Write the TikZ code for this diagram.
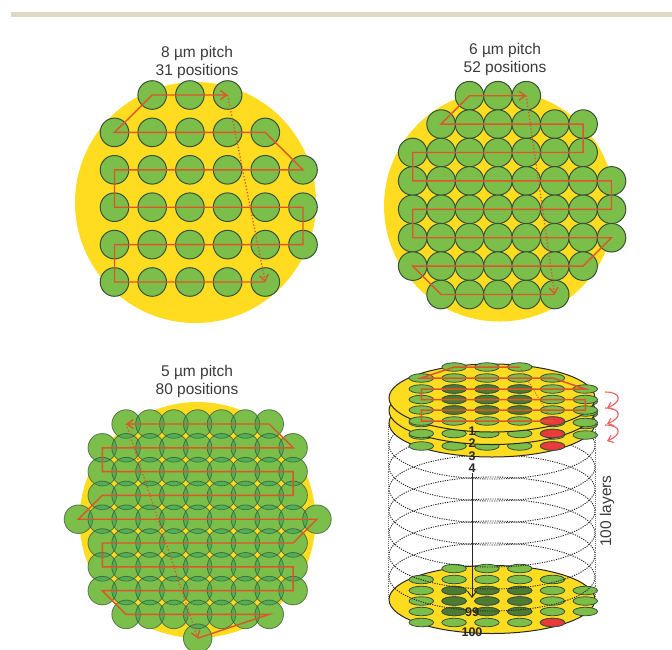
\documentclass[tikz,border=0pt]{standalone}
\usepackage{fontspec}
\usepackage{xcolor}
\usepackage{tikz}
\usetikzlibrary{arrows.meta,shapes.geometric}
\setmainfont{Liberation Sans}
\definecolor{bandcol}{HTML}{DFD8C6}
\definecolor{wafer}{HTML}{FFDC20}
\definecolor{greencol}{HTML}{7BBF4A}
\definecolor{greenunder}{RGB}{182,215,57}
\definecolor{greenover}{RGB}{14,146,105}
\definecolor{greendark}{HTML}{4F7A32}
\definecolor{rimcol}{HTML}{37503A}
\definecolor{routecol}{HTML}{DE5528}
\definecolor{spotred}{HTML}{EC3A3C}
\definecolor{wigglecol}{HTML}{EE5F62}
\definecolor{labelcol}{HTML}{3A3A3C}
\newcommand{\plate}[2]{
  \node[disc] (#1) at (492,#2) {};
  \foreach \r/\dy/\a/\b in {1/-31/2/4,2/-20/1/5,3/-9/1/6,4/1.5/1/6,5/12/1/6,6/23/1/5}
    \foreach \c in {\a,...,\b}
      \node[spot] (#1-\r-\c) at ({421.3+32.8*(\c-1)},{#2+\dy}) {};
  \foreach \r/\dy in {3/-9,4/1.5,5/12}
    \foreach \c in {2,3,4}
      \node[spot,fill=greendark] (#1-\r-\c) at ({421.3+32.8*(\c-1)},{#2+\dy}) {};
  \node[spot,fill=spotred] (#1-6-5) at ({421.3+32.8*4},{#2+23}) {};
}
\begin{document}
\begin{tikzpicture}[x=1pt,y=-1pt,
    site/.style={circle,draw=rimcol,line width=1pt,fill=greencol,inner sep=0pt,minimum size=28.6pt},
    siteover/.style={site,line width=0.8pt,fill=greenover,fill opacity=0.35,draw opacity=0.7},
    disc/.style={ellipse,draw=black!85,line width=1pt,fill=wafer,inner sep=0pt,minimum width=206pt,minimum height=68pt},
    spot/.style={ellipse,draw=rimcol,line width=0.8pt,fill=greencol,inner sep=0pt,minimum width=24.5pt,minimum height=8.5pt},
    layer/.style={ellipse,draw=black!85,line width=0.9pt,dash pattern=on 1.2pt off 1.2pt,inner sep=0pt,minimum width=206pt,minimum height=68pt},
    route/.style={draw=routecol,line width=1.4pt,-{Straight Barb[length=6pt,width=9pt]}},
    travel/.style={draw=routecol,line width=1.3pt,dash pattern=on 1.3pt off 2pt,-{Straight Barb[length=6pt,width=9pt]}},
    caption/.style={align=center,text=labelcol,font=\fontsize{15.5}{18}\selectfont},
    number/.style={inner sep=0pt,font=\fontsize{12.5}{12.5}\selectfont\bfseries,text=black!85},
    wiggle/.style={draw=wigglecol,line width=1.1pt,-{Straight Barb[length=5pt,width=8pt]}}]
  \useasboundingbox (0,0) rectangle (672,649);
  \fill[bandcol] (11,12) rectangle (672,17);

  \node[caption] (capa) at (197,62) {8 µm pitch\\31 positions};
  \fill[wafer] (195.5,202.5) circle [radius=120.5];
  \foreach \r/\a/\b in {1/2/4,2/1/5,3/1/6,4/1/6,5/1/6,6/1/5}
    \foreach \c in {\a,...,\b}
      \node[site] (a-\r-\c) at ({114.5+37.7*(\c-1)},{95+37.4*(\r-1)}) {};
  \draw[route] (a-6-5.center) -- (a-6-1.center) -- (a-5-1.center) -- (a-5-6.center)
    -- (a-4-6.center) -- (a-4-1.center) -- (a-3-1.center) -- (a-3-6.center)
    -- (a-2-5.center) -- (a-2-1.center) -- (a-1-2.center) -- (a-1-4.center);
  \draw[travel] (a-1-4.center) -- (a-6-5.center);

  \node[caption] (capb) at (505,59) {6 µm pitch\\52 positions};
  \fill[wafer] (499.5,206) circle [radius=115.5];
  \foreach \r/\a/\b in {1/3/5,2/2/7,3/1/7,4/1/8,5/1/8,6/1/8,7/1/7,8/2/6}
    \foreach \c in {\a,...,\b}
      \node[site] (b-\r-\c) at ({412.7+28.4*(\c-1)},{95.7+28.4*(\r-1)}) {};
  \draw[route] (b-8-6.center) -- (b-8-2.center) -- (b-7-1.center) -- (b-7-7.center)
    -- (b-6-8.center) -- (b-6-1.center) -- (b-5-1.center) -- (b-5-8.center)
    -- (b-4-8.center) -- (b-4-1.center) -- (b-3-1.center) -- (b-3-7.center)
    -- (b-2-7.center) -- (b-2-2.center) -- (b-1-3.center) -- (b-1-5.center);
  \draw[travel] (b-1-5.center) -- (b-8-6.center);

  \node[caption] (capc) at (197,381.5) {5 µm pitch\\80 positions};
  \fill[wafer] (197.5,520) circle [radius=118];
  \foreach \r/\a/\b in {1/3/9,2/2/10,3/2/10,4/2/10,5/1/11,6/2/10,7/2/10,8/2/10,9/3/9,10/6/6}
    \foreach \c in {\a,...,\b}
      \fill[greenunder] ({197.7+23.85*(\c-6)},{424+23.8*(\r-1)}) circle [radius=14.3];
  \foreach \r/\a/\b in {1/3/9,2/2/10,3/2/10,4/2/10,5/1/11,6/2/10,7/2/10,8/2/10,9/3/9,10/6/6}
    \foreach \c in {\a,...,\b}
      \node[siteover] (c-\r-\c) at ({197.7+23.85*(\c-6)},{424+23.8*(\r-1)}) {};
  \draw[route] (c-10-6.center) -- (c-9-9.center) -- (c-9-3.center) -- (c-8-2.center)
    -- (c-8-10.center) -- (c-7-10.center) -- (c-7-2.center) -- (c-6-2.center)
    -- (c-6-10.center) -- (c-5-11.center) -- (c-5-1.center) -- (c-4-2.center)
    -- (c-4-10.center) -- (c-3-10.center) -- (c-3-2.center) -- (c-2-2.center)
    -- (c-2-10.center) -- (c-1-9.center) -- (c-1-3.center);
  \draw[travel] (c-1-3.center) -- (c-10-6.center);

  \plate{last}{599.5}
  \foreach \k in {1,...,7}
    \node[layer] (layer\k) at (492,{423+22*\k}) {};
  \plate{third}{423}
  \plate{second}{410.5}
  \plate{first}{398}
  \draw[black!55,line width=0.9pt,densely dotted] (third.west) -- (last.west);
  \draw[black!55,line width=0.9pt,densely dotted] (third.east) -- (last.east);
  \draw[route,line width=1.5pt,-] (first-6-5.center) -- (first-6-1.center) -- (first-5-1.center) -- (first-5-6.center)
    -- (first-4-6.center) -- (first-4-1.center) -- (first-3-1.center) -- (first-3-6.center)
    -- (first-2-5.center) -- (first-2-1.center) -- (first-1-2.center) -- (first-1-4.center);
  \draw[routecol,line width=1pt,dash pattern=on 1pt off 1.5pt] (first-1-4.center) -- (first-6-5.center);

  \node[number] (n1) at (472,431) {1};
  \node[number] (n2) at (472,443.5) {2};
  \node[number] (n3) at (472,456) {3};
  \node[number] (n4) at (472,468) {4};
  \node[number] (n99) at (472,612.5) {99};
  \node[number] (n100) at (472,632.5) {100};
  \coordinate (deep) at (472,598);
  \draw[black!85,line width=1pt,-{Straight Barb[length=6pt,width=9pt]}] (n4) -- (deep);

  \node[caption,rotate=90] (caplayers) at (607,511) {100 layers};
  \foreach \y in {392,408,425}
    \draw[wiggle] (605,\y) .. controls (622,\y) and (622,{\y+10}) .. (607,{\y+16});
\end{tikzpicture}
\end{document}
